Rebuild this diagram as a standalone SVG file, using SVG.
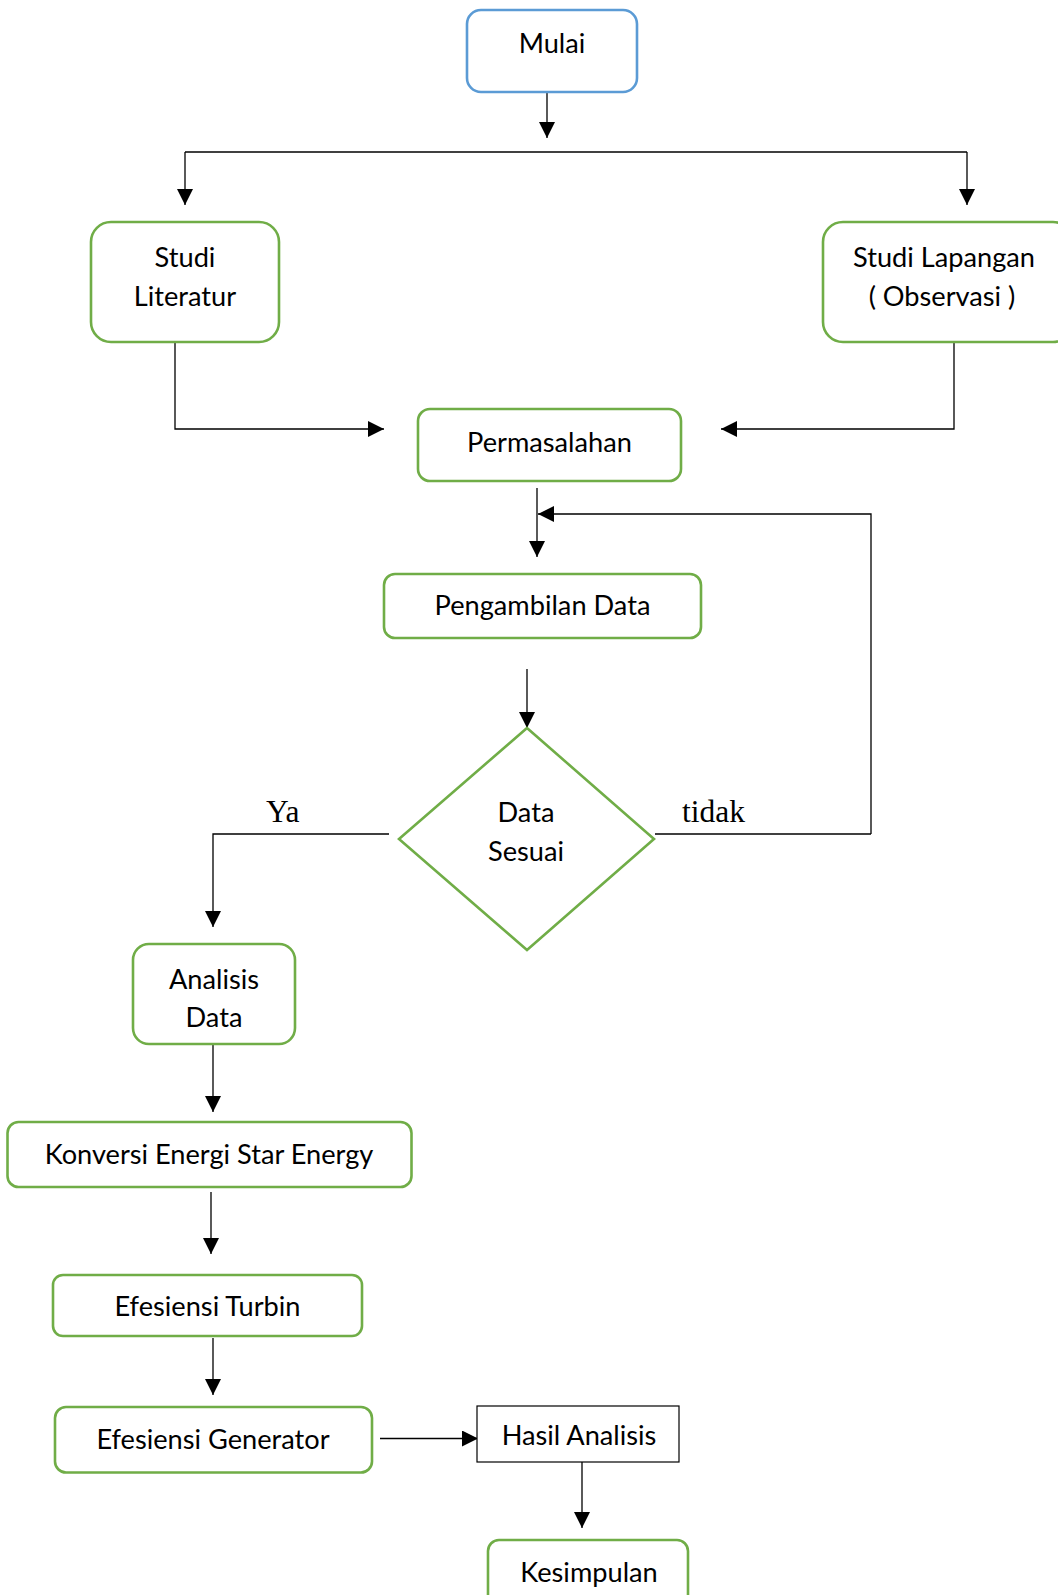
<svg xmlns="http://www.w3.org/2000/svg" width="1058" height="1595" viewBox="0 0 1058 1595">
<style>
.bg{fill:#ffffff}
.g{fill:#ffffff;stroke:#70AD47;stroke-width:2.6}
.b{fill:#ffffff;stroke:#5B9BD5;stroke-width:2.6}
.k{fill:#ffffff;stroke:#000000;stroke-width:1.2}
.t{font-family:Lato,"Liberation Sans",sans-serif;font-size:27.2px;fill:#000000;text-anchor:middle}
.s{font-family:"Liberation Serif",serif;font-size:31.5px;fill:#000000}
.c{fill:none;stroke:#000000;stroke-width:1.3}
.a{marker-end:url(#arr)}
</style>
<defs>
<marker id="arr" markerUnits="userSpaceOnUse" markerWidth="16" markerHeight="16" refX="16" refY="8" orient="auto">
<path d="M0,0 L16,8 L0,16 z" fill="#000000"/>
</marker>
</defs>
<rect class="bg" x="0" y="0" width="1058" height="1595"/>

<g id="connectors">
<line class="c a" x1="547" y1="92" x2="547" y2="138"/>
<polyline class="c" points="185,152 967,152"/>
<line class="c a" x1="185" y1="152" x2="185" y2="205"/>
<line class="c a" x1="967" y1="152" x2="967" y2="205"/>
<polyline class="c a" points="175,342 175,429 384,429"/>
<polyline class="c a" points="954,342 954,429 721,429"/>
<line class="c a" x1="537" y1="488" x2="537" y2="557"/>
<polyline class="c a" points="871,834 871,514 538,514"/>
<line class="c" x1="655" y1="834" x2="871" y2="834"/>
<line class="c a" x1="527" y1="669" x2="527" y2="728"/>
<polyline class="c a" points="389,834 213,834 213,927"/>
<line class="c a" x1="213" y1="1044" x2="213" y2="1112"/>
<line class="c a" x1="211" y1="1192" x2="211" y2="1254"/>
<line class="c a" x1="213" y1="1338" x2="213" y2="1395"/>
<line class="c a" x1="380" y1="1438.5" x2="478" y2="1438.5"/>
<line class="c a" x1="582" y1="1462" x2="582" y2="1528"/>
<text class="s" x="266" y="822">Ya</text>
<text class="s" x="682" y="822">tidak</text>
</g>

<g id="mulai">
<rect class="b" x="467" y="10" width="170" height="82" rx="14"/>
<text class="t" x="552" y="53">Mulai</text>
</g>

<g id="studi-literatur">
<rect class="g" x="91" y="222" width="188" height="120" rx="20"/>
<text class="t" x="185" y="267">Studi</text>
<text class="t" x="185" y="305.5">Literatur</text>
</g>

<g id="studi-lapangan">
<rect class="g" x="823" y="222" width="250" height="120" rx="20"/>
<text class="t" x="944" y="267">Studi Lapangan</text>
<text class="t" x="942" y="305.5">( Observasi )</text>
</g>

<g id="permasalahan">
<rect class="g" x="418" y="409" width="263" height="72" rx="12"/>
<text class="t" x="549.5" y="451.5">Permasalahan</text>
</g>

<g id="pengambilan-data">
<rect class="g" x="384" y="574" width="317" height="64" rx="11"/>
<text class="t" x="542.5" y="615">Pengambilan Data</text>
</g>

<g id="data-sesuai">
<polygon class="g" points="527,728 654,839 527,950 399,839"/>
<text class="t" x="526" y="822">Data</text>
<text class="t" x="526" y="861">Sesuai</text>
</g>

<g id="analisis-data">
<rect class="g" x="133" y="944" width="162" height="100" rx="16"/>
<text class="t" x="214" y="988.5">Analisis</text>
<text class="t" x="214" y="1026.5">Data</text>
</g>

<g id="konversi-energi">
<rect class="g" x="7.5" y="1122" width="404" height="65" rx="11"/>
<text class="t" x="209" y="1163.5">Konversi Energi Star Energy</text>
</g>

<g id="efesiensi-turbin">
<rect class="g" x="53" y="1275" width="309" height="61" rx="10"/>
<text class="t" x="207.5" y="1316">Efesiensi Turbin</text>
</g>

<g id="efesiensi-generator">
<rect class="g" x="55" y="1407" width="317" height="65.5" rx="11"/>
<text class="t" x="213" y="1449">Efesiensi Generator</text>
</g>

<g id="hasil-analisis">
<rect class="k" x="477" y="1406" width="202" height="56"/>
<text class="t" x="579" y="1444.5">Hasil Analisis</text>
</g>

<g id="kesimpulan">
<rect class="g" x="488" y="1540" width="200" height="70" rx="11"/>
<text class="t" x="589" y="1582">Kesimpulan</text>
</g>
</svg>
